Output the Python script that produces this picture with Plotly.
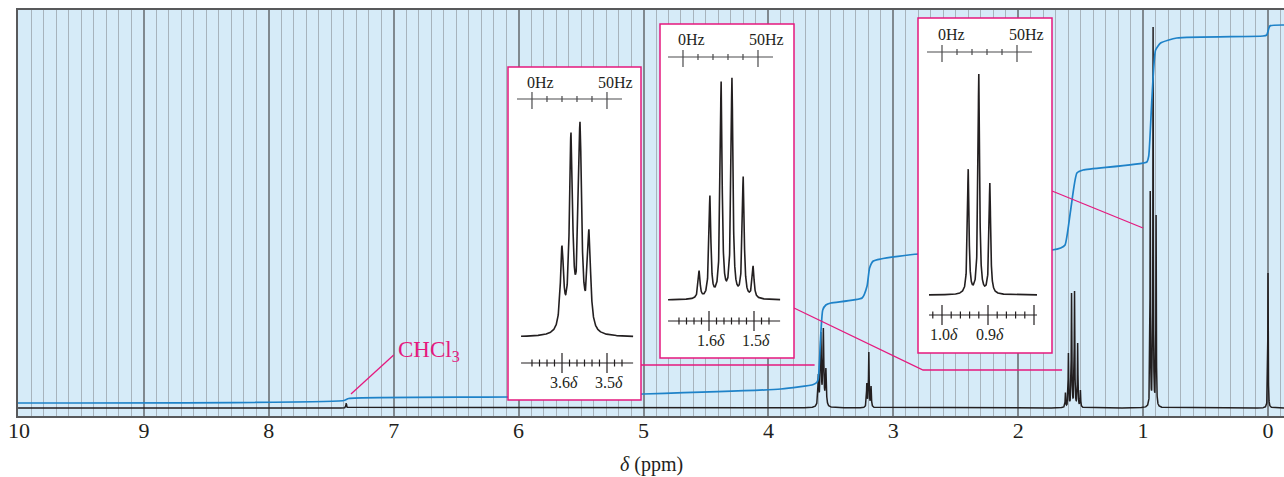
import numpy as np
import plotly.graph_objects as go

# ---------------- data ----------------
# peak positions (ppm) and observed peak heights (full spectrum units)
CHCL3_PPM = [7.38]
CHCL3_HT = [5.0]
OCH2_PPM = [3.600, 3.580, 3.560, 3.540]
OCH2_HT = [34, 76, 80, 40]
OH_PPM = [3.212, 3.196, 3.178]
OH_HT = [25, 56, 22]
CH2_PPM = [1.622, 1.598, 1.573, 1.549, 1.524, 1.502]
CH2_HT = [15.5, 55, 115, 117, 65, 18]
CH3_PPM = [0.943, 0.920, 0.896]
CH3_HT = [217, 381, 193]
TMS_PPM = [0.0]
TMS_HT = [135]
# line half-widths (ppm)
CHCL3_W, OCH2_W, OH_W, CH2_W, CH3_W, TMS_W = 0.003, 0.0042, 0.003, 0.0025, 0.002, 0.002

# integral curve (ppm, level)
INT_PPM = [10.01, 7.40, 7.36, 6.08, 5.0, 3.90, 3.64, 3.61, 3.60, 3.58, 3.565, 3.54, 3.50,
           3.25, 3.21, 3.19, 3.16, 3.10, 2.80, 1.73, 1.66, 1.625, 1.58, 1.53, 1.48,
           0.97, 0.955, 0.93, 0.90, 0.86, 0.73, 0.04, 0.01, -0.015, -0.13]
INT_LVL = [5, 7.5, 9.5, 11, 14, 19, 23.5, 26, 30, 75, 98, 103, 105,
           110, 122, 140, 147, 149, 154, 158, 160, 163, 198, 235, 238,
           246, 252, 308, 358, 365, 370, 372, 373, 382, 383]

X_TICKS = list(range(0, 11))
X_TICK_TEXT = [str(v) for v in X_TICKS]

# insets: expanded multiplets
INSET_HZ_TICKS = [0, 10, 20, 30, 40, 50]
INSET_HZ_MAJOR = [0, 50]
INSET_HZ_LABELS = ["0Hz", "50Hz"]

IN1_MAJOR = [3.6, 3.5]
IN1_LABELS = ["3.6<i>δ</i>", "3.5<i>δ</i>"]
IN1_MINOR = [3.6667, 3.65, 3.6333, 3.6167, 3.5833, 3.5667, 3.55, 3.5333, 3.5167, 3.4833, 3.4667]
IN2_MAJOR = [1.6, 1.5]
IN2_LABELS = ["1.6<i>δ</i>", "1.5<i>δ</i>"]
IN2_MINOR = [1.6667, 1.65, 1.6333, 1.6167, 1.5833, 1.5667, 1.55, 1.5333, 1.5167, 1.4833, 1.4667]
IN3_MAJOR = [1.0, 0.9, 0.8]
IN3_LABELS = ["1.0<i>δ</i>", "0.9<i>δ</i>", ""]
IN3_MINOR = [1.02, 0.98, 0.96, 0.94, 0.92, 0.88, 0.86, 0.84, 0.82]

# ---------------- styling / layout geometry ----------------
W, H = 1284, 477
PL, PR, PT, PB = 18, 1284, 10, 416
X_RANGE = [10.008, -0.128]
Y_RANGE = [-8, 398]
MAGENTA = "#e5197e"
BLACK = "#231f20"
BLUE = "#1e82c8"
FONT = "Liberation Serif, Times New Roman, serif"


def xdom(a, b):
    return [(a - PL) / (PR - PL), (b - PL) / (PR - PL)]


def ydom(top, bot):
    return [(PB - bot) / (PB - PT), (PB - top) / (PB - PT)]


def amplitudes(ppm, hts, w):
    p = np.array(ppm, float)
    L = w * w / (w * w + (p[:, None] - p[None, :]) ** 2)
    return np.linalg.solve(L, np.array(hts, float))


def lorentz(x, ppm, amps, w):
    y = np.zeros_like(x)
    for p, a in zip(ppm, amps):
        y += a * w * w / (w * w + (x - p) ** 2)
    return y


MULTS = [
    (CHCL3_PPM, CHCL3_HT, CHCL3_W),
    (OCH2_PPM, OCH2_HT, OCH2_W),
    (OH_PPM, OH_HT, OH_W),
    (CH2_PPM, CH2_HT, CH2_W),
    (CH3_PPM, CH3_HT, CH3_W),
    (TMS_PPM, TMS_HT, TMS_W),
]
AMPS = [amplitudes(p, h, w) for p, h, w in MULTS]

all_p = np.concatenate([np.array(m[0], float) for m in MULTS])
xg = np.union1d(np.round(np.arange(X_RANGE[1], X_RANGE[0], 0.0005), 5), all_p)
yg = np.zeros_like(xg)
for (p, h, w), a in zip(MULTS, AMPS):
    yg += lorentz(xg, p, a, w)

fig = go.Figure()
fig.add_trace(go.Scatter(x=xg, y=yg, mode="lines", line=dict(color=BLACK, width=1.5),
                         hoverinfo="skip", showlegend=False))
fig.add_trace(go.Scatter(x=INT_PPM, y=INT_LVL, mode="lines",
                         line=dict(color=BLUE, width=1.7, shape="spline", smoothing=0.5),
                         hoverinfo="skip", showlegend=False))

# callout lines (main-axis coordinates)
CALLOUTS = [
    ([5.02, 3.63], [43, 43]),
    ([3.795, 2.762, 1.649], [100, 38, 38]),
    ([1.729, 1.001], [217, 180]),
    ([7.342, 7.0], [14, 53]),
]
for cx, cy in CALLOUTS:
    fig.add_trace(go.Scatter(x=cx, y=cy, mode="lines", line=dict(color=MAGENTA, width=1.3),
                             hoverinfo="skip", showlegend=False))

INSETS = [
    dict(mult=1, box=(508, 67, 641, 400), base=337, ref=(3.6, 562), pxppm=450, gain=2.69,
         hz0=3.6667, hz_y=238, ppm_y=-26, line=(3.691, 3.442),
         major=IN1_MAJOR, labels=IN1_LABELS, minor=IN1_MINOR),
    dict(mult=3, box=(660, 24, 794, 358), base=300, ref=(1.6, 709), pxppm=450, gain=1.90,
         hz0=1.6578, hz_y=243, ppm_y=-21, line=(1.691, 1.442),
         major=IN2_MAJOR, labels=IN2_LABELS, minor=IN2_MINOR),
    dict(mult=4, box=(918, 18, 1052, 353), base=295, ref=(1.0, 942), pxppm=460, gain=0.58,
         hz0=1.0, hz_y=243, ppm_y=-20, line=(1.0283, 0.7935),
         major=IN3_MAJOR, labels=IN3_LABELS, minor=IN3_MINOR),
]

layout_axes = {}
shapes = []
annotations = []
for k, ins in enumerate(INSETS, start=2):
    x0, y0, x1, y1 = ins["box"]
    rp, rx = ins["ref"]
    s = ins["pxppm"]
    xr = [rp + (rx - x0) / s, rp - (x1 - rx) / s]
    yr = [-(y1 - ins["base"]), ins["base"] - y0]
    layout_axes[f"xaxis{k}"] = dict(domain=xdom(x0, x1), range=xr, visible=False,
                                    anchor=f"y{k}", fixedrange=True, automargin=False)
    layout_axes[f"yaxis{k}"] = dict(domain=ydom(y0, y1), range=yr, visible=False,
                                    anchor=f"x{k}", fixedrange=True, automargin=False)
    # white panel (covers the main plot underneath)
    fig.add_trace(go.Scatter(x=[xr[0], xr[1], xr[1], xr[0], xr[0]],
                             y=[yr[0], yr[0], yr[1], yr[1], yr[0]],
                             mode="lines", fill="toself", fillcolor="white",
                             line=dict(width=0, color="white"),
                             xaxis=f"x{k}", yaxis=f"y{k}", hoverinfo="skip", showlegend=False))
    shapes.append(dict(type="rect", xref=f"x{k} domain", yref=f"y{k} domain",
                       x0=0, x1=1, y0=0, y1=1, fillcolor="rgba(0,0,0,0)",
                       line=dict(color=MAGENTA, width=1.5), layer="above"))
    p, h, w = MULTS[ins["mult"]]
    a = AMPS[ins["mult"]]
    lx0, lx1 = ins["line"]
    xi = np.union1d(np.linspace(lx1, lx0, 1500), np.array(p, float))
    yi = lorentz(xi, p, a, w) * ins["gain"]
    fig.add_trace(go.Scatter(x=xi, y=yi, mode="lines", line=dict(color=BLACK, width=1.6),
                             xaxis=f"x{k}", yaxis=f"y{k}", hoverinfo="skip", showlegend=False))
    # Hz scale
    hz_to_ppm = lambda hz: ins["hz0"] - hz * 1.5 / s
    hy = ins["hz_y"]
    sx = [hz_to_ppm(-10), hz_to_ppm(60), None]
    sy = [hy, hy, None]
    for t in INSET_HZ_TICKS:
        sx += [hz_to_ppm(t), hz_to_ppm(t), None]
        if t in INSET_HZ_MAJOR:
            sy += [hy - 10, hy + 7, None]
        else:
            sy += [hy - 3, hy + 3, None]
    fig.add_trace(go.Scatter(x=sx, y=sy, mode="lines", line=dict(color="#4a4a4c", width=1.2),
                             xaxis=f"x{k}", yaxis=f"y{k}", hoverinfo="skip", showlegend=False))
    for t, lab in zip(INSET_HZ_MAJOR, INSET_HZ_LABELS):
        annotations.append(dict(x=hz_to_ppm(t), y=hy + 17, xref=f"x{k}", yref=f"y{k}",
                                text=lab, showarrow=False, xshift=9,
                                font=dict(family=FONT, size=16, color=BLACK)))
    # ppm scale
    py = ins["ppm_y"]
    px_ = [lx0, lx1, None]
    py_ = [py, py, None]
    for t in ins["major"]:
        px_ += [t, t, None]
        py_ += [py - 10, py + 10, None]
    for t in ins["minor"]:
        px_ += [t, t, None]
        py_ += [py - 3.5, py + 3.5, None]
    fig.add_trace(go.Scatter(x=px_, y=py_, mode="lines", line=dict(color=BLACK, width=1.2),
                             xaxis=f"x{k}", yaxis=f"y{k}", hoverinfo="skip", showlegend=False))
    for t, lab in zip(ins["major"], ins["labels"]):
        if lab:
            annotations.append(dict(x=t, y=py - 19, xref=f"x{k}", yref=f"y{k}",
                                    text=lab, showarrow=False, xshift=2,
                                    font=dict(family=FONT, size=16, color=BLACK)))

annotations.append(dict(x=6.98, y=57, xref="x", yref="y", text="CHCl<sub>3</sub>",
                        showarrow=False, xanchor="left", yanchor="middle",
                        font=dict(family=FONT, size=23, color=MAGENTA)))
# axis title
annotations.append(dict(x=0.5, y=(PB - 464) / (PB - PT), xref="paper", yref="paper",
                        text="<i>δ</i> (ppm)", showarrow=False, xanchor="center", yanchor="middle",
                        font=dict(family=FONT, size=20, color=BLACK)))

fig.update_layout(
    template="none",
    width=W, height=H,
    margin=dict(l=PL, r=W - PR, t=PT, b=H - PB, autoexpand=False),
    paper_bgcolor="white",
    plot_bgcolor="#d6ebf8",
    showlegend=False,
    xaxis=dict(range=X_RANGE, tickvals=X_TICKS, ticktext=X_TICK_TEXT, ticks="",
               ticklabelstandoff=-6,
               showgrid=True, gridcolor="#80898f", gridwidth=1.6,
               minor=dict(dtick=0.1, tick0=0, showgrid=True, gridcolor="#a7b3bc", gridwidth=1.4),
               zeroline=False, showline=True, mirror=True, linecolor="#58595b", linewidth=2,
               tickfont=dict(family=FONT, size=22, color=BLACK),
               automargin=False, fixedrange=True),
    yaxis=dict(range=Y_RANGE, showgrid=False, zeroline=False, showticklabels=False, ticks="",
               showline=True, mirror=True, linecolor="#58595b", linewidth=1.5,
               automargin=False, fixedrange=True),
    shapes=shapes,
    annotations=annotations,
    **layout_axes,
)

fig.write_html("out.html", config={"displayModeBar": False},
               post_script="document.body.style.margin='0';document.body.style.overflow='hidden';")
